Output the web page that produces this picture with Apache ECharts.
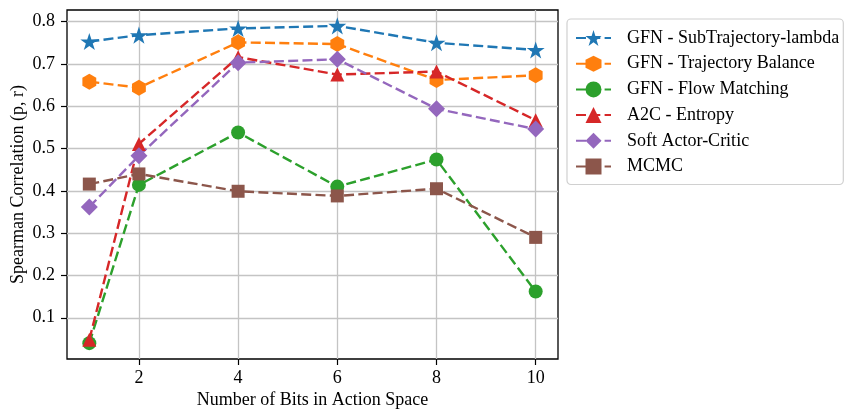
<!DOCTYPE html>
<html>
<head>
<meta charset="utf-8">
<script src="https://cdn.jsdelivr.net/npm/echarts@6/dist/echarts.min.js"></script>
<style>
  html, body { margin: 0; padding: 0; background: #fff; }
  #chart { width: 848px; height: 409px; }
</style>
</head>
<body>
<div id="chart"></div>
<script>
// Number of bits in the action space
const bits = [1, 2, 4, 6, 8, 10];

// Spearman correlation per method
const subTrajLambda = [0.753, 0.768, 0.784, 0.790, 0.750, 0.733];
const trajBalance   = [0.658, 0.644, 0.751, 0.747, 0.662, 0.673];
const flowMatching  = [0.040, 0.414, 0.538, 0.410, 0.474, 0.162];
const a2cEntropy    = [0.048, 0.511, 0.716, 0.675, 0.682, 0.567];
const softAC        = [0.362, 0.483, 0.703, 0.711, 0.594, 0.546];
const mcmc          = [0.416, 0.440, 0.399, 0.388, 0.405, 0.290];

const xTicks = [2, 4, 6, 8, 10];
const yTicks = [0.1, 0.2, 0.3, 0.4, 0.5, 0.6, 0.7, 0.8];

const names = [
  'GFN - SubTrajectory-lambda',
  'GFN - Trajectory Balance',
  'GFN - Flow Matching',
  'A2C - Entropy',
  'Soft Actor-Critic',
  'MCMC'
];
const values = [subTrajLambda, trajBalance, flowMatching, a2cEntropy, softAC, mcmc];
const colors = ['#1f77b4', '#ff7f0e', '#2ca02c', '#d62728', '#9467bd', '#8c564b'];

// marker shapes
function polyPath(points) {
  return 'path://' + points.map((p, i) => (i ? 'L' : 'M') + p[0].toFixed(4) + ',' + p[1].toFixed(4)).join(' ') + ' Z';
}
function starPath() {
  const pts = [];
  for (let i = 0; i < 10; i++) {
    const r = i % 2 === 0 ? 1 : 0.382;
    const a = -Math.PI / 2 + i * Math.PI / 5;
    pts.push([r * Math.cos(a), r * Math.sin(a)]);
  }
  return polyPath(pts);
}
function hexPath() {
  const pts = [];
  for (let i = 0; i < 6; i++) {
    const a = -Math.PI / 2 + i * Math.PI / 3;
    pts.push([Math.cos(a), Math.sin(a)]);
  }
  return polyPath(pts);
}
const symbols = [starPath(), hexPath(), 'circle', 'triangle', 'diamond', 'rect'];
const symbolSizes = [18, 16, 14, 14, 17, 13];

const font = 'Liberation Serif';

const series = names.map((name, k) => ({
  name: name,
  type: 'line',
  data: bits.map((b, i) => [b, values[k][i]]),
  symbol: symbols[k],
  symbolSize: symbolSizes[k],
  symbolKeepAspect: true,
  showAllSymbol: true,
  color: colors[k],
  lineStyle: { color: colors[k], width: 2.4, type: [10, 4.3] },
  itemStyle: { color: colors[k], borderWidth: 0 },
  emphasis: { disabled: true },
  animation: false
}));

const chart = echarts.init(document.getElementById('chart'), null, { renderer: 'canvas' });
chart.setOption({
  animation: false,
  backgroundColor: '#fff',
  grid: {
    left: 67, right: 290, top: 10, bottom: 50,
    outerBoundsMode: 'none',
    containLabel: false,
    show: true, borderColor: '#000', borderWidth: 1.3, backgroundColor: 'transparent'
  },
  xAxis: {
    type: 'value',
    min: 0.55, max: 10.45,
    name: 'Number of Bits in Action Space',
    nameLocation: 'middle',
    nameGap: 32,
    nameMoveOverlap: false,
    nameTextStyle: { fontFamily: font, fontSize: 18, color: '#000' },
    axisLine: { show: false },
    axisTick: { show: true, length: 6, lineStyle: { color: '#000', width: 1.2 }, customValues: xTicks },
    axisLabel: { fontFamily: font, fontSize: 18, color: '#000', margin: 10, customValues: xTicks },
    splitLine: { show: true, lineStyle: { color: '#c4c4c4', width: 1.3 } }
  },
  yAxis: {
    type: 'value',
    min: 0.0025, max: 0.8275,
    name: 'Spearman Correlation (p, r)',
    nameLocation: 'middle',
    nameGap: 40,
    nameMoveOverlap: false,
    nameTextStyle: { fontFamily: font, fontSize: 18, color: '#000' },
    axisLine: { show: false },
    axisTick: { show: true, length: 6, lineStyle: { color: '#000', width: 1.2 }, customValues: yTicks },
    axisLabel: {
      fontFamily: font, fontSize: 18, color: '#000', margin: 12,
      customValues: yTicks,
      formatter: v => v.toFixed(1)
    },
    splitLine: { show: true, lineStyle: { color: '#c4c4c4', width: 1.3 } }
  },
  legend: {
    orient: 'vertical',
    left: 567, top: 19,
    padding: [10, 4, 9, 8],
    itemWidth: 35, itemHeight: 20, itemGap: 7.7,
    backgroundColor: '#fff',
    borderColor: '#d0d0d0', borderWidth: 1.2, borderRadius: 4,
    textStyle: { fontFamily: font, fontSize: 18, color: '#000', lineHeight: 18, padding: [0, 0, 0, 11] },
    data: names
  },
  series: series
});
</script>
</body>
</html>
